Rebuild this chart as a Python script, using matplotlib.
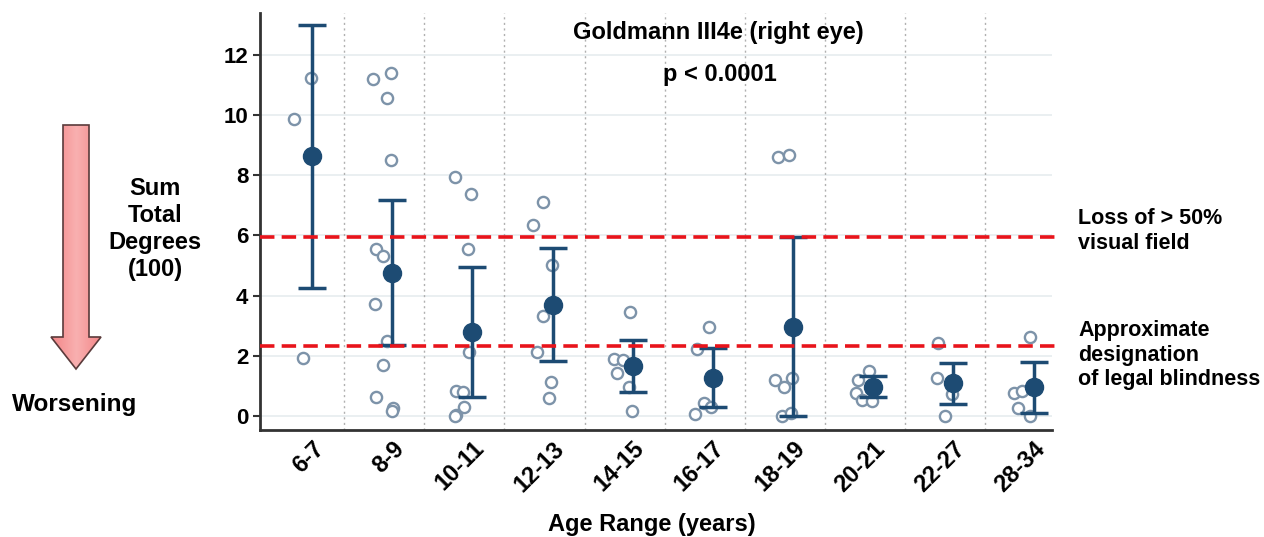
import numpy as np
import matplotlib
matplotlib.use('Agg')
import matplotlib.pyplot as plt
from matplotlib.patches import Polygon
from matplotlib.colors import LinearSegmentedColormap

plt.rcParams['font.family'] = ['Liberation Sans', 'DejaVu Sans']
plt.rcParams['font.weight'] = 'bold'

age_ranges = ['6-7', '8-9', '10-11', '12-13', '14-15', '16-17', '18-19', '20-21', '22-27', '28-34']
means = [8.64, 4.76, 2.80, 3.69, 1.67, 1.27, 2.97, 0.97, 1.08, 0.96]
upper = [13.0, 7.18, 4.96, 5.58, 2.53, 2.25, 5.94, 1.32, 1.76, 1.80]
lower = [4.25, 2.36, 0.62, 1.81, 0.81, 0.29, 0.0, 0.63, 0.38, 0.10]

# individual eyes per age range
points = [
    [11.25, 9.87, 1.93],
    [11.2, 11.4, 10.57, 8.51, 5.55, 5.33, 3.72, 2.49, 1.70, 0.64, 0.26, 0.15],
    [7.93, 7.37, 5.55, 2.14, 0.83, 0.80, 0.29, 0.03, 0.0],
    [7.11, 6.35, 5.02, 3.33, 2.14, 1.11, 0.61],
    [3.45, 1.88, 1.86, 1.42, 0.97, 0.15],
    [2.97, 2.23, 0.42, 0.29, 0.06],
    [8.62, 8.67, 1.20, 0.96, 1.27, 0.0, 0.09],
    [1.50, 1.20, 0.76, 0.53, 0.50],
    [2.43, 1.27, 0.73, -0.02],
    [2.62, 0.77, 0.84, 0.26, -0.02],
]
jitter = [
    [-0.02, -0.22, -0.11],
    [-0.24, -0.02, -0.07, -0.02, -0.2, -0.12, -0.22, -0.06, -0.12, -0.2, 0.01, 0.0],
    [-0.22, -0.02, -0.06, -0.04, -0.2, -0.12, -0.11, -0.2, -0.22],
    [-0.12, -0.24, -0.01, -0.12, -0.2, -0.02, -0.05],
    [-0.04, -0.24, -0.12, -0.2, -0.05, -0.01],
    [-0.05, -0.2, -0.11, -0.02, -0.22],
    [-0.19, -0.05, -0.22, -0.11, -0.01, -0.14, -0.02],
    [-0.05, -0.19, -0.21, -0.14, -0.02],
    [-0.19, -0.21, -0.02, -0.11],
    [-0.04, -0.24, -0.14, -0.19, -0.04],
]
half_loss = 5.95
legal_blind = 2.32

navy = '#1d4b73'
W, H = 1264, 537
fig = plt.figure(figsize=(W / 100, H / 100), dpi=100)
ax = fig.add_axes([260 / W, 1 - 430 / H, (1052 - 260) / W, (430 - 13) / H])

x = np.arange(len(age_ranges))
for i in x:
    ax.scatter(i + np.array(jitter[i]), points[i], s=65, facecolors='white',
               edgecolors='#7d93a9', linewidths=1.7, zorder=3)

means = np.array(means)
yerr = [means - np.array(lower), np.array(upper) - means]
ax.errorbar(x, means, yerr=yerr, fmt='o', color=navy, ms=13, elinewidth=2.5,
            capsize=10, capthick=2.5, zorder=4)

for level in [half_loss, legal_blind]:
    ax.axhline(level, xmin=0, xmax=1.008, color='#e8141b', lw=2.6, ls=(0, (4, 2)),
               clip_on=False, zorder=5)

ax.set_xlim(-0.65, 9.23)
ax.set_ylim(-0.47, 13.4)
ax.set_yticks(range(0, 13, 2))
for yy in range(0, 13, 2):
    ax.axhline(yy, color='#e6ecef', lw=1.2, zorder=0)
for b in x[:-1] + 0.4:
    ax.axvline(b, color='#b0b0b0', lw=1, ls=(0, (1.5, 2.5)), zorder=0)

ax.set_xticks(x)
ax.set_xticklabels(age_ranges, rotation=45, ha='right', rotation_mode='anchor',
                   fontsize=17, fontweight='bold')
ax.tick_params(axis='x', length=0, pad=5)
ax.tick_params(axis='y', length=5, width=1.5, labelsize=16, color='#333333')
for lab in ax.get_yticklabels():
    lab.set_fontweight('bold')
for s in ['top', 'right']:
    ax.spines[s].set_visible(False)
for s in ['left', 'bottom']:
    ax.spines[s].set_color('#333333')
    ax.spines[s].set_linewidth(2)

fig.text(718 / W, 1 - 33 / H, 'Goldmann III4e (right eye)', ha='center', va='center',
         fontsize=17, fontweight='bold')
fig.text(720 / W, 1 - 74 / H, 'p < 0.0001', ha='center', va='center',
         fontsize=17, fontweight='bold')
fig.text(1078 / W, 1 - 231 / H, 'Loss of > 50%\nvisual field', ha='left', va='center',
         fontsize=15.5, fontweight='bold', linespacing=1.2)
fig.text(1078 / W, 1 - 355 / H, 'Approximate\ndesignation\nof legal blindness', ha='left',
         va='center', fontsize=15.5, fontweight='bold', linespacing=1.2)
fig.text(155 / W, 1 - 229 / H, 'Sum\nTotal\nDegrees\n(100)', ha='center', va='center',
         fontsize=17, fontweight='bold', linespacing=1.23)
fig.text(75 / W, 1 - 404 / H, 'Worsening', ha='center', va='center',
         fontsize=17.5, fontweight='bold')
fig.text(652 / W, 1 - 524 / H, 'Age Range (years)', ha='center', va='center',
         fontsize=17, fontweight='bold')

# red "worsening" arrow, drawn in pixel coordinates with a soft horizontal gradient
arrow_px = [(63, 125), (89, 125), (89, 337), (101, 337), (76, 369), (51, 337), (63, 337)]
arrow_fig = [(px / W, 1 - py / H) for px, py in arrow_px]
gax = fig.add_axes([51 / W, 1 - 369 / H, 50 / W, 244 / H])
gax.set_axis_off()
grad = np.abs(np.linspace(-1, 1, 200))[None, :]
cmap = LinearSegmentedColormap.from_list('arrow', ['#f9b0b0', '#f38587'])
img = gax.imshow(grad, aspect='auto', cmap=cmap, extent=[0, 1, 0, 1])
clip = Polygon(arrow_fig, closed=True, transform=fig.transFigure, facecolor='none')
gax.add_patch(clip)
img.set_clip_path(clip)
fig.add_artist(Polygon(arrow_fig, closed=True, transform=fig.transFigure,
                       facecolor='none', edgecolor='#5a3b3b', lw=1.2))

fig.savefig('out.png', dpi=100)
